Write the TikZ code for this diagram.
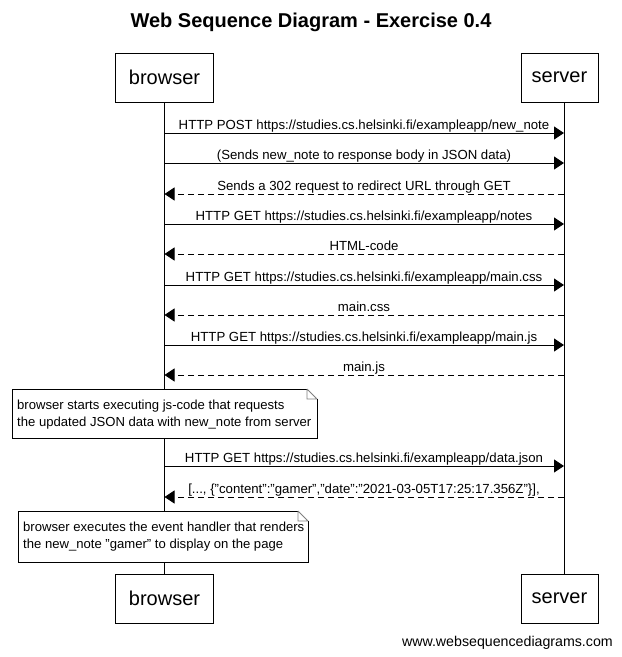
\documentclass[tikz,border=0pt]{standalone}
\usepackage{fontspec}
\setmainfont{Liberation Sans}
\usetikzlibrary{arrows.meta}
\begin{document}
\begin{tikzpicture}[x=1pt,y=-1pt,
  part/.style={draw,line width=0.8pt,minimum width=98pt,minimum height=49pt,inner sep=0pt,font=\fontsize{20}{24}\selectfont},
  msglabel/.style={font=\fontsize{13.2}{15}\selectfont,inner sep=0pt,anchor=base},
  msg/.style={line width=0.8pt,-{Triangle[length=10pt,width=13pt]}},
  reply/.style={msg,dash pattern=on 6pt off 4pt},
  notetext/.style={font=\fontsize{13.1}{16.5}\selectfont,align=left,inner sep=0pt,anchor=north west},
  life/.style={line width=0.8pt}]
\useasboundingbox (0,0) rectangle (622,657);
\fill[white] (0,0) rectangle (622,657);
\node[font=\bfseries\fontsize{20}{24}\selectfont] (title) at (311,22) {Web Sequence Diagram - Exercise 0.4};
\node[part] (bt) at (164.5,77.5) {browser};
\node[part,minimum width=77pt] (st) at (559.5,77.5) {server};
\node[part] (bb) at (164.5,598.5) {browser};
\node[part,minimum width=77pt] (sb) at (559.5,598.5) {server};
\coordinate (bx) at (164.5,0);
\coordinate (sx) at (564,0);
\draw[life] (bx |- bt.south) -- (bx |- bb.north);
\draw[life] (sx |- st.south) -- (sx |- sb.north);
% messages
\foreach \y/\dir/\txt [count=\i] in {
 133/r/{HTTP POST https://studies.cs.helsinki.fi/exampleapp/new\_note},
 163/r/{(Sends new\_note to response body in JSON data)},
 194/l/{Sends a 302 request to redirect URL through GET},
 224/r/{HTTP GET https://studies.cs.helsinki.fi/exampleapp/notes},
 254/l/{HTML-code},
 285/r/{HTTP GET https://studies.cs.helsinki.fi/exampleapp/main.css},
 315/l/{main.css},
 345/r/{HTTP GET https://studies.cs.helsinki.fi/exampleapp/main.js},
 375/l/{main.js},
 466/r/{HTTP GET https://studies.cs.helsinki.fi/exampleapp/data.json},
 497/l/{[..., \{"content":"gamer","date":"2021-03-05T17:25:17.356Z"\}],}}{
  \coordinate (b\i) at (164.5,\y);
  \coordinate (s\i) at (564,\y);
  \node[msglabel] (m\i) at (364,\y-4) {\txt};
  \if r\dir
    \draw[msg] (b\i) -- (s\i);
  \else
    \draw[reply] (s\i) -- (b\i);
  \fi
}
% notes
\newcommand{\drawnote}[5]{% x1 y1 x2 y2 name
  \fill[white] (#1,#2) -- (#3-10,#2) -- (#3,#2+10) -- (#3,#4) -- (#1,#4) -- cycle;
  \draw[line width=0.8pt] (#3-10,#2) -- (#1,#2) -- (#1,#4) -- (#3,#4) -- (#3,#2+10);
  \draw[line width=0.8pt,gray] (#3-10,#2) -- (#3,#2+10) (#3-10,#2) -- (#3-10,#2+10) -- (#3,#2+10);
}
\drawnote{12}{389}{317}{438}{n1}
\node[notetext] (n1) at (17,400) {browser starts executing js-code that requests\\the updated JSON data with new\_note from server};
\drawnote{18}{511}{308}{562}{n2}
\node[notetext] (n2) at (23,522) {browser executes the event handler that renders\\the new\_note "gamer" to display on the page};
\node[font=\fontsize{14.2}{16}\selectfont,anchor=base east,inner sep=0pt] (foot) at (613,646) {www.websequencediagrams.com};
\end{tikzpicture}
\end{document}
